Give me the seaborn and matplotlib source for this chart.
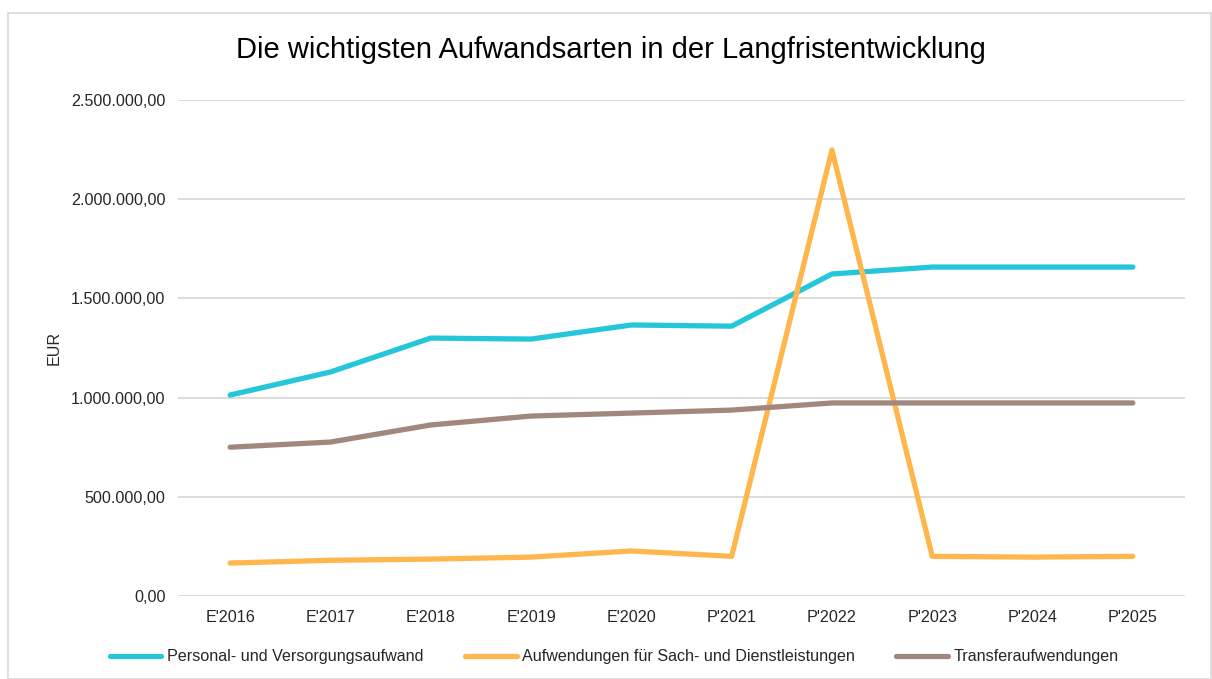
import pandas as pd
import seaborn as sns
import matplotlib.pyplot as plt
import matplotlib.ticker as mticker
from matplotlib.patches import Rectangle

## chart data
years = ["E'2016", "E'2017", "E'2018", "E'2019", "E'2020",
         "P'2021", "P'2022", "P'2023", "P'2024", "P'2025"]
personal = [1013000, 1129000, 1300000, 1295000, 1366000,
            1360000, 1623000, 1658000, 1658000, 1658000]
sach = [166000, 180000, 186000, 196000, 227000,
        200000, 2248000, 200000, 196000, 200000]
transfer = [750000, 776000, 862000, 907000, 922000,
            937000, 973000, 973000, 973000, 973000]
series_names = ['Personal- und Versorgungsaufwand',
                'Aufwendungen für Sach- und Dienstleistungen',
                'Transferaufwendungen']
colors = ['#26C6DA', '#FFB74D', '#A1887F']

df = pd.DataFrame({'Jahr': years * 3,
                   'Wert': personal + sach + transfer,
                   'Art': [series_names[0]] * 10 + [series_names[1]] * 10 + [series_names[2]] * 10})

sns.set_style('white')
plt.rcParams['font.family'] = ['Liberation Sans', 'DejaVu Sans']

fig = plt.figure(figsize=(12.12, 6.79), dpi=100)
ax = fig.add_axes([178 / 1212, 1 - 596 / 679, (1185 - 178) / 1212, (596 - 100) / 679])

sns.lineplot(data=df, x='Jahr', y='Wert', hue='Art', palette=colors,
             linewidth=3.8, sort=False, ax=ax, legend=False)
for l in ax.lines:
    l.set_solid_capstyle('round')
    l.set_solid_joinstyle('round')

ax.set_ylim(0, 2500000)
ax.set_xlim(-0.52, 9.52)
ax.yaxis.set_major_locator(mticker.MultipleLocator(500000))
ax.yaxis.set_major_formatter(mticker.FuncFormatter(
    lambda v, p: f'{v:,.2f}'.replace(',', 'X').replace('.', ',').replace('X', '.')))
ax.grid(axis='y', color='#d9d9d9', linewidth=1.3)
ax.set_axisbelow(True)
for s in ax.spines.values():
    s.set_visible(False)
ax.tick_params(axis='both', length=0, labelsize=11.6, colors='#262626', pad=9)
ax.tick_params(axis='x', pad=10)
ax.set_xlabel('')
ax.set_ylabel('EUR', fontsize=11.6, color='#262626')
ax.yaxis.set_label_coords(-0.116, 0.5)

fig.text(0.504, 1 - 50 / 679, 'Die wichtigsten Aufwandsarten in der Langfristentwicklung',
         ha='center', va='center', fontsize=21, color='black')

handles = [plt.Line2D([], [], color=c, linewidth=3.8, solid_capstyle='round') for c in colors]
fig.legend(handles, series_names, loc='center', bbox_to_anchor=(0.507, 1 - 657 / 679),
           ncol=3, frameon=False, fontsize=11.6, handlelength=3.2, columnspacing=2.55,
           handletextpad=0.37, labelcolor='#262626')

fig.patches.append(Rectangle((8 / 1212, 0), 1 - 8 / 1212 - 1 / 1212, 1 - 13 / 679,
                             transform=fig.transFigure, fill=False,
                             edgecolor='#d9d9d9', linewidth=1.2))

plt.savefig('out.png', dpi=100)
